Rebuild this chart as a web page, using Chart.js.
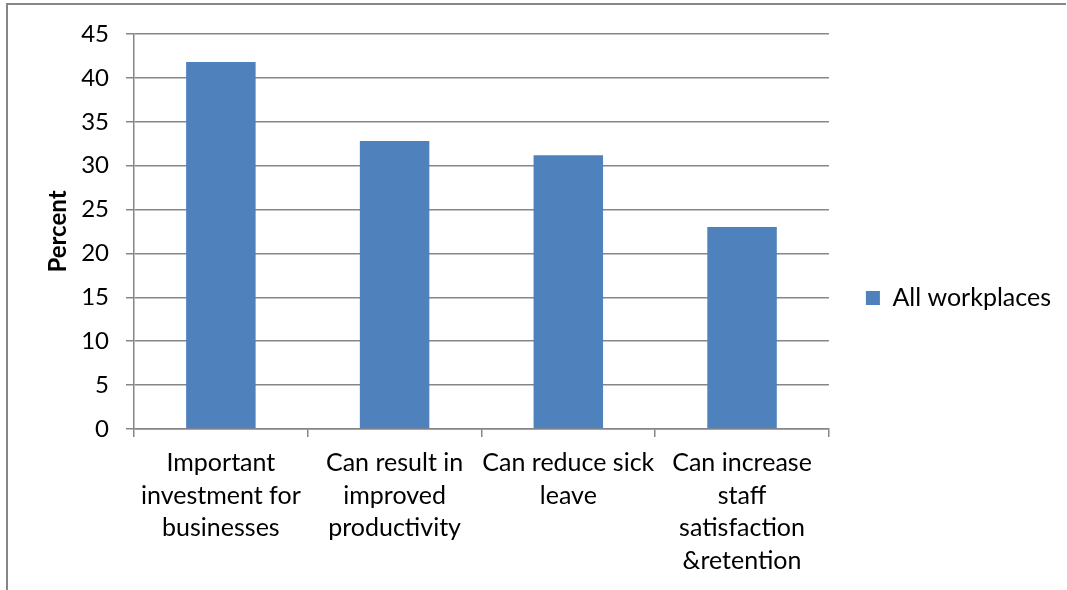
<!DOCTYPE html>
<html>
<head>
<meta charset="utf-8">
<script src="https://cdn.jsdelivr.net/npm/chart.js@4"></script>
<style>
  html, body { margin: 0; padding: 0; background: #ffffff; }
  #wrap { position: relative; width: 1067px; height: 590px; }
</style>
</head>
<body>
<div id="wrap"><canvas id="chart" width="1067" height="590"></canvas></div>
<script>
// Survey responses: why workplace health programmes matter
const categories = [
  ['Important', 'investment for', 'businesses'],
  ['Can result in', 'improved', 'productivity'],
  ['Can reduce sick', 'leave'],
  ['Can increase', 'staff', 'satisfaction', '&retention']
];
const seriesName = 'All workplaces';
const allWorkplaces = [41.8, 32.8, 31.2, 23.0];
const yTicks = [0, 5, 10, 15, 20, 25, 30, 35, 40, 45];

const FONT = 'Lato, "Open Sans", sans-serif';
const GRID = '#868686';
const BAR = '#4F81BD';

// Thin frame along the top and left edges of the chart object
const framePlugin = {
  id: 'frame',
  beforeDraw(chart) {
    const ctx = chart.ctx;
    ctx.save();
    ctx.strokeStyle = GRID;
    ctx.lineWidth = 2;
    ctx.beginPath();
    ctx.moveTo(7, 600);
    ctx.lineTo(7, 4);
    ctx.lineTo(1066, 4);
    ctx.stroke();
    ctx.restore();
  }
};

// Keep the legend centred on the frame rather than on the full canvas height
const legendBandPlugin = {
  id: 'legendBand',
  afterLayout(chart) {
    if (chart.legend) {
      chart.legend.bottom = 562;
      chart.legend.height = chart.legend.bottom - chart.legend.top;
    }
  }
};

new Chart(document.getElementById('chart'), {
  type: 'bar',
  data: {
    labels: categories,
    datasets: [{
      label: seriesName,
      data: allWorkplaces,
      backgroundColor: BAR,
      borderWidth: 0,
      categoryPercentage: 1.0,
      barPercentage: 0.4
    }]
  },
  options: {
    responsive: false,
    devicePixelRatio: 1,
    animation: false,
    layout: { padding: { left: 44, top: 34, right: 6, bottom: 0 } },
    plugins: {
      legend: {
        position: 'right',
        labels: {
          boxWidth: 14,
          boxHeight: 14,
          padding: 37,
          color: '#000000',
          font: { family: FONT, size: 25 }
        }
      },
      tooltip: { enabled: false }
    },
    scales: {
      x: {
        offset: true,
        grid: {
          offset: true,
          drawOnChartArea: false,
          drawTicks: true,
          tickLength: 8,
          color: GRID,
          lineWidth: 1.5
        },
        border: { display: true, color: GRID, width: 1.5 },
        ticks: {
          color: '#000000',
          font: { family: FONT, size: 25, lineHeight: 1.3 },
          padding: 10,
          maxRotation: 0,
          minRotation: 0,
          autoSkip: false
        },
        afterFit(scale) { scale.height = 161; }
      },
      y: {
        min: 0,
        max: 45,
        afterBuildTicks(scale) { scale.ticks = yTicks.map(v => ({ value: v })); },
        grid: {
          color: GRID,
          lineWidth: 1.5,
          drawTicks: true,
          tickLength: 8
        },
        border: { display: true, color: GRID, width: 1.5 },
        ticks: {
          color: '#000000',
          font: { family: FONT, size: 24 },
          padding: 17
        },
        title: {
          display: true,
          text: 'Percent',
          color: '#000000',
          font: { family: FONT, size: 24, weight: 'bold' },
          padding: 0
        },
        afterFit(scale) { scale.width = 90; }
      }
    }
  },
  plugins: [framePlugin, legendBandPlugin]
});
</script>
</body>
</html>
